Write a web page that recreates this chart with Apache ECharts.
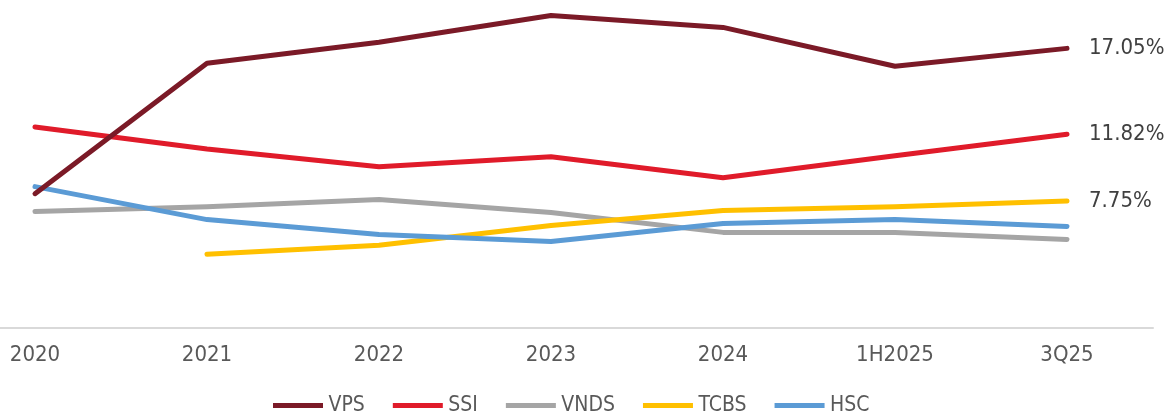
<!DOCTYPE html>
<html>
<head>
<meta charset="utf-8">
<script src="https://cdn.jsdelivr.net/npm/echarts@6/dist/echarts.min.js"></script>
<style>
  html, body { margin: 0; padding: 0; background: #fff; overflow: hidden; }
  body { width: 1170px; height: 411px; position: relative; }
  /* the first category band is cut off on the left in the reference */
  #container { position: absolute; left: -51px; top: 0; width: 1221px; height: 411px; }
</style>
</head>
<body>
<div id="container"></div>
<script>
var dom = document.getElementById('container');
var myChart = echarts.init(dom);

var FONT = "'DejaVu Sans Condensed', 'Liberation Sans Narrow', sans-serif";

// categories
let xLabel = ['2020', '2021', '2022', '2023', '2024', '1H2025', '3Q25'];
// % values
let vps  = [8.19, 16.14, 17.42, 19.05, 18.33, 15.96, 17.05];
let ssi  = [12.26, 10.92, 9.83, 10.44, 9.16, 10.50, 11.82];
let vnds = [7.10, 7.40, 7.83, 7.04, 5.83, 5.83, 5.40];
let tcbs = [null, 4.49, 5.04, 6.25, 7.16, 7.40, 7.75];
let hsc  = [8.62, 6.61, 5.70, 5.28, 6.37, 6.61, 6.19];
// only these series carry the last-point label
let labelled = ['VPS', 'SSI', 'TCBS'];

function makeLine(name, data, color) {
    return {
        name: name,
        type: 'line',
        data: data,
        symbol: 'none',
        smooth: false,
        z: name === 'VPS' ? 5 : 3,
        lineStyle: { color: color, width: 5, cap: 'round', join: 'round' },
        itemStyle: { color: color },
        emphasis: { disabled: true },
        endLabel: {
            show: labelled.indexOf(name) >= 0,
            formatter: function (p) { return p.value.toFixed(2) + '%'; },
            color: '#404040',
            fontSize: 22,
            fontFamily: FONT,
            distance: 22
        }
    };
}

option = {
    backgroundColor: '#fff',
    animation: false,
    textStyle: { fontFamily: FONT },
    legend: {
        data: ['VPS', 'SSI', 'VNDS', 'TCBS', 'HSC'],
        left: 268 + 51,
        top: 390,
        icon: 'path://M0,0 L10,0 L10,1 L0,1 Z',
        itemWidth: 55,
        itemHeight: 5,
        itemGap: 28,
        textStyle: { color: '#595959', fontSize: 21, fontFamily: FONT, padding: [0, 0, 0, -2] }
    },
    grid: {
        left: 0,
        right: 17,
        top: -2,
        bottom: 83,
        containLabel: false
    },
    xAxis: {
        type: 'category',
        data: xLabel,
        boundaryGap: true,
        axisLine: { show: true, lineStyle: { color: '#d9d9d9', width: 2 } },
        axisTick: { show: false },
        axisLabel: { color: '#595959', fontSize: 22, fontFamily: FONT, margin: 16 }
    },
    yAxis: {
        type: 'value',
        min: 0,
        max: 20,
        show: false,
        splitLine: { show: false }
    },
    series: [
        makeLine('VNDS', vnds, '#A5A5A5'),
        makeLine('TCBS', tcbs, '#FFC000'),
        makeLine('HSC', hsc, '#5B9BD5'),
        makeLine('SSI', ssi, '#E01B2A'),
        makeLine('VPS', vps, '#7B1A27')
    ]
};
myChart.setOption(option);

window.addEventListener('resize', function () {
    myChart.resize();
});
</script>
</body>
</html>
